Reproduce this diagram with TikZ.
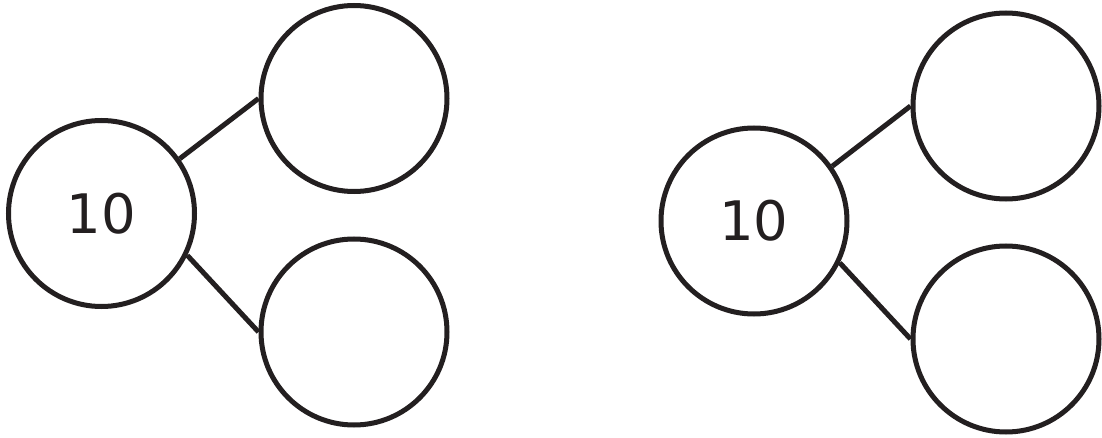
\documentclass[tikz,border=0pt]{standalone}
\usepackage{fontspec}
\setmainfont{DejaVu Sans}
\usepackage{xcolor}
\usepackage{tikz}
\usetikzlibrary{positioning}
\definecolor{inkline}{HTML}{231F20}
\tikzset{
  wholebox/.style={circle, draw=inkline, line width=0.1cm, minimum size=3.72cm, inner sep=0pt, font=\fontsize{31}{31}\selectfont, text=inkline},
  partbox/.style={circle, draw=inkline, line width=0.1cm, minimum size=3.72cm, inner sep=0pt},
  bondline/.style={draw=inkline, line width=0.1cm}
}
\begin{document}
\begin{tikzpicture}
    \useasboundingbox (0,0) rectangle (22.04,8.74);
    % first number bond
    \node[wholebox] (whole1) at (2.03,4.47) {10};
    \node[partbox] (parta1) at (7.08,6.77) {};
    \node[partbox] (partb1) at (7.08,2.10) {};
    \draw[bondline] (whole1.35) -- (parta1.west);
    \draw[bondline] (whole1.-26) -- (partb1.west);
    % second number bond
    \node[wholebox] (whole2) at (15.08,4.32) {10};
    \node[partbox] (parta2) at (20.12,6.62) {};
    \node[partbox] (partb2) at (20.12,1.96) {};
    \draw[bondline] (whole2.35) -- (parta2.west);
    \draw[bondline] (whole2.-26) -- (partb2.west);
  \end{tikzpicture}
\end{document}
